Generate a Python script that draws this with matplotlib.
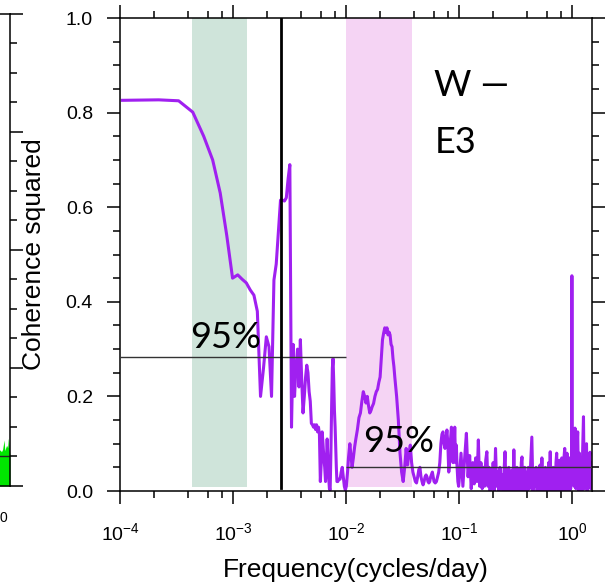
import matplotlib
matplotlib.use('Agg')
import matplotlib.pyplot as plt
import numpy as np
from matplotlib.ticker import LogLocator, MultipleLocator, NullFormatter

plt.rcParams['font.family'] = ['Liberation Sans', 'DejaVu Sans']
plt.rcParams['mathtext.fontset'] = 'custom'
plt.rcParams['mathtext.rm'] = 'Liberation Sans'
plt.rcParams['mathtext.it'] = 'Liberation Sans:italic'
plt.rcParams['mathtext.bf'] = 'Liberation Sans:bold'

# coherence, low frequencies (smooth part)
freq_low = [1.05e-4, 2.2e-4, 3.3e-4, 4.4e-4, 5.5e-4, 6.6e-4, 7.7e-4, 8.8e-4, 9.9e-4,
            1.1e-3, 1.2e-3, 1.31e-3, 1.42e-3, 1.53e-3, 1.64e-3, 1.75e-3, 1.86e-3,
            1.97e-3, 2.08e-3, 2.19e-3, 2.3e-3, 2.41e-3, 2.52e-3, 2.63e-3, 2.74e-3,
            2.85e-3, 2.96e-3, 3.07e-3, 3.18e-3]
coh_low = [0.826, 0.827, 0.825, 0.801, 0.75, 0.70, 0.63, 0.54, 0.45,
           0.457, 0.448, 0.44, 0.425, 0.414, 0.38, 0.20, 0.26,
           0.326, 0.305, 0.20, 0.446, 0.48, 0.55, 0.615, 0.615,
           0.613, 0.62, 0.66, 0.69]

# coherence, middle frequencies
freq_mid = [3.29e-3, 3.4e-3, 3.5e-3, 3.6e-3, 3.72e-3, 3.83e-3, 3.94e-3, 4.05e-3, 4.16e-3,
            4.27e-3, 4.38e-3, 4.49e-3, 4.6e-3, 4.71e-3, 4.82e-3, 4.93e-3, 5.04e-3, 5.15e-3,
            5.26e-3, 5.37e-3, 5.48e-3, 5.59e-3, 5.7e-3, 5.81e-3, 5.92e-3, 6.03e-3, 6.14e-3,
            6.25e-3, 6.36e-3, 6.47e-3, 6.58e-3, 6.69e-3, 6.8e-3, 6.9e-3, 7.01e-3, 7.12e-3,
            7.23e-3, 7.34e-3, 7.45e-3, 7.56e-3, 7.67e-3, 7.78e-3, 7.89e-3, 8.0e-3, 8.1e-3,
            8.2e-3, 8.3e-3, 8.45e-3, 8.65e-3, 8.85e-3, 9.05e-3, 9.25e-3, 9.45e-3, 9.65e-3,
            9.85e-3, 1.005e-2, 1.03e-2, 1.05e-2, 1.08e-2, 1.1e-2, 1.13e-2, 1.16e-2, 1.19e-2,
            1.22e-2, 1.26e-2, 1.3e-2, 1.34e-2, 1.38e-2, 1.42e-2, 1.46e-2, 1.5e-2, 1.54e-2,
            1.58e-2, 1.62e-2, 1.66e-2, 1.7e-2, 1.75e-2, 1.8e-2, 1.85e-2, 1.9e-2, 1.95e-2,
            2.0e-2, 2.05e-2, 2.1e-2, 2.15e-2, 2.2e-2, 2.25e-2, 2.3e-2, 2.35e-2, 2.4e-2,
            2.45e-2, 2.5e-2, 2.55e-2, 2.6e-2, 2.65e-2, 2.7e-2, 2.8e-2, 2.9e-2, 3.0e-2,
            3.1e-2, 3.2e-2, 3.3e-2, 3.4e-2, 3.5e-2, 3.6e-2, 3.7e-2, 3.8e-2, 3.9e-2, 4.0e-2,
            4.1e-2, 4.2e-2, 4.3e-2, 4.4e-2, 4.5e-2, 4.6e-2, 4.7e-2, 4.8e-2, 4.9e-2, 5.0e-2,
            5.1e-2, 5.2e-2, 5.3e-2, 5.4e-2, 5.5e-2, 5.6e-2, 5.7e-2, 5.8e-2, 5.9e-2, 6.0e-2,
            6.15e-2, 6.3e-2, 6.45e-2, 6.6e-2, 6.75e-2, 6.9e-2, 7.05e-2, 7.2e-2, 7.35e-2,
            7.5e-2, 7.65e-2, 7.8e-2, 7.95e-2, 8.1e-2, 8.25e-2, 8.4e-2, 8.55e-2, 8.7e-2,
            8.85e-2, 9.0e-2, 9.15e-2, 9.3e-2, 9.45e-2, 9.6e-2, 9.75e-2, 9.9e-2]
coh_mid = [0.135, 0.31, 0.20, 0.26, 0.30, 0.22, 0.32, 0.235, 0.165,
           0.20, 0.24, 0.266, 0.25, 0.21, 0.19, 0.143, 0.14, 0.135,
           0.14, 0.13, 0.14, 0.125, 0.135, 0.12, 0.02, 0.06, 0.125,
           0.10, 0.07, 0.05, 0.02, 0.06, 0.11, 0.07, 0.03, 0.005,
           0.002, 0.08, 0.18, 0.26, 0.28, 0.23, 0.17, 0.135, 0.09,
           0.05, 0.02, 0.02, 0.025, 0.025, 0.04, 0.05, 0.03, 0.01,
           0.002, 0.01, 0.04, 0.07, 0.10, 0.08, 0.05, 0.07, 0.093,
           0.11, 0.13, 0.155, 0.165, 0.19, 0.21, 0.20, 0.186, 0.20,
           0.18, 0.165, 0.17, 0.178, 0.185, 0.20, 0.21, 0.215, 0.23,
           0.241, 0.28, 0.32, 0.334, 0.345, 0.335, 0.345, 0.33, 0.336,
           0.33, 0.31, 0.305, 0.28, 0.263, 0.24, 0.20, 0.15, 0.08,
           0.04, 0.02, 0.05, 0.09, 0.055, 0.08, 0.097, 0.06, 0.04, 0.03,
           0.02, 0.017, 0.03, 0.045, 0.05, 0.03, 0.02, 0.013, 0.02, 0.03,
           0.034, 0.03, 0.02, 0.017, 0.02, 0.03, 0.035, 0.04, 0.03, 0.02,
           0.017, 0.02, 0.03, 0.04, 0.06, 0.10, 0.12, 0.125, 0.10,
           0.09, 0.11, 0.129, 0.10, 0.04, 0.06, 0.11, 0.135, 0.10,
           0.06, 0.08, 0.135, 0.06, 0.097, 0.05, 0.02, 0.01]

# coherence, high frequencies (dense, noisy part)
freq_high = [0.100, 0.104, 0.108, 0.112, 0.116, 0.120, 0.124, 0.128, 0.132, 0.136,
             0.140, 0.144, 0.148, 0.152, 0.156, 0.160, 0.164, 0.168, 0.172, 0.176,
             0.180, 0.184, 0.188, 0.192, 0.196,
             0.200, 0.205, 0.210, 0.215, 0.220, 0.225, 0.230, 0.235, 0.240, 0.245,
             0.250, 0.255, 0.260, 0.265, 0.270, 0.275, 0.280, 0.285, 0.290, 0.295,
             0.300, 0.305, 0.310, 0.315, 0.320, 0.325, 0.330, 0.335, 0.340, 0.345,
             0.350, 0.355, 0.360, 0.365, 0.370, 0.375, 0.380, 0.385, 0.390, 0.395,
             0.40, 0.41, 0.42, 0.43, 0.44, 0.45, 0.46, 0.47, 0.48, 0.49,
             0.50, 0.51, 0.52, 0.53, 0.54, 0.55, 0.56, 0.57, 0.58, 0.59,
             0.60, 0.61, 0.62, 0.63, 0.64, 0.65, 0.66, 0.67, 0.68, 0.69,
             0.70, 0.71, 0.72, 0.73, 0.74, 0.75, 0.76, 0.77, 0.78, 0.79,
             0.80, 0.81, 0.82, 0.83, 0.84, 0.85, 0.86, 0.87, 0.88, 0.89,
             0.90, 0.91, 0.92, 0.93, 0.94, 0.95, 0.96, 0.97, 0.98, 0.99,
             0.995,
             1.00, 1.02, 1.04, 1.06, 1.08, 1.10, 1.12, 1.14, 1.16, 1.18,
             1.20, 1.22, 1.24, 1.26, 1.28, 1.30, 1.32, 1.34, 1.36, 1.38,
             1.40, 1.42, 1.44, 1.46, 1.48, 1.50]
coh_high = [0.02, 0.08, 0.01, 0.07, 0.122, 0.03, 0.075, 0.005, 0.06, 0.015,
            0.07, 0.02, 0.108, 0.01, 0.06, 0.005, 0.05, 0.01, 0.065, 0.083,
            0.01, 0.05, 0.0, 0.045, 0.005,
            0.06, 0.0, 0.09, 0.01, 0.04, 0.0, 0.05, 0.005, 0.035, 0.0,
            0.045, 0.083, 0.0, 0.04, 0.005, 0.05, 0.0, 0.035, 0.01, 0.045,
            0.0, 0.087, 0.005, 0.04, 0.0, 0.05, 0.01, 0.04, 0.0, 0.045,
            0.005, 0.06, 0.072, 0.0, 0.04, 0.005, 0.05, 0.0, 0.04, 0.01,
            0.0, 0.05, 0.005, 0.06, 0.114, 0.0, 0.045, 0.01, 0.05, 0.0,
            0.04, 0.005, 0.055, 0.0, 0.07, 0.01, 0.045, 0.0, 0.05, 0.005,
            0.04, 0.0, 0.06, 0.01, 0.083, 0.0, 0.045, 0.005, 0.05, 0.0,
            0.04, 0.01, 0.06, 0.08, 0.0, 0.05, 0.005, 0.065, 0.0, 0.05,
            0.01, 0.07, 0.0, 0.05, 0.005, 0.075, 0.09, 0.0, 0.06, 0.005,
            0.08, 0.0, 0.05, 0.01, 0.07, 0.0, 0.06, 0.005, 0.07, 0.02,
            0.455,
            0.03, 0.09, 0.01, 0.133, 0.005, 0.08, 0.125, 0.0, 0.08, 0.01,
            0.07, 0.0, 0.09, 0.157, 0.005, 0.07, 0.01, 0.10, 0.0, 0.06,
            0.01, 0.07, 0.082, 0.005, 0.06, 0.03]

# neighbouring panel (only its right edge shows)
freq_green = [1.20, 1.23, 1.26, 1.29, 1.31, 1.33, 1.35, 1.37, 1.40, 1.43, 1.45, 1.47, 1.49, 1.5]
coh_green = [0.06, 0.061, 0.058, 0.062, 0.07, 0.078, 0.06, 0.064, 0.069, 0.065, 0.081, 0.07, 0.056, 0.05]

sig_low = 0.283      # 95% level, f < 0.01
sig_high = 0.051     # 95% level, f > 0.01
f_split = 1e-2
f_annual = 2.65e-3
band_green = (4.35e-4, 1.33e-3)
band_pink = (1.0e-2, 0.0385)

xtick_vals = [1e-4, 1e-3, 1e-2, 1e-1, 1e0]
xtick_labels = [r'$\mathregular{10^{-4}}$', r'$\mathregular{10^{-3}}$', r'$\mathregular{10^{-2}}$',
                r'$\mathregular{10^{-1}}$', r'$\mathregular{10^{0}}$']
ytick_vals = [0.0, 0.2, 0.4, 0.6, 0.8, 1.0]
ytick_labels = ['0.0', '0.2', '0.4', '0.6', '0.8', '1.0']

purple = '#A020F0'
xmin, xmax = 1e-4, 1.5


def style(ax):
    ax.set_xscale('log')
    ax.set_xlim(xmin, xmax)
    ax.set_xticks(xtick_vals, xtick_labels)
    ax.xaxis.set_minor_locator(LogLocator(base=10, subs=[2, 4, 6, 8], numticks=20))
    ax.xaxis.set_minor_formatter(NullFormatter())
    ax.yaxis.set_minor_locator(MultipleLocator(0.05))
    ax.tick_params(which='both', direction='out', top=True, right=True, width=1.1,
                   labelsize=14)
    ax.tick_params(which='major', length=9.5)
    ax.tick_params(which='minor', length=5)
    ax.tick_params(axis='y', pad=10)
    ax.tick_params(axis='x', pad=13)
    for s in ax.spines.values():
        s.set_linewidth(1.1)


fig = plt.figure(figsize=(6.13, 5.83), dpi=100)

# cut-off panel on the left
ax0 = fig.add_axes([0.0163 - 0.77, 0.1664, 0.77, 0.8096])
style(ax0)
ax0.set_ylim(0, 0.8)
ax0.yaxis.set_major_locator(MultipleLocator(0.2))
ax0.tick_params(labelleft=False, labelbottom=False)
ax0.fill_between(freq_green, 0, coh_green, color='#00E600', lw=0)
ax0.hlines(sig_high, f_split, xmax, color='#222222', lw=1.0)
# visible tail of that panel's 10^0 label
fig.text(0.0, 1 - 518 / 583, '0', fontsize=10, ha='left', va='center')

ax = fig.add_axes([0.1958, 0.1578, 0.7700, 0.8113])
style(ax)
ax.set_ylim(0, 1.0)
ax.set_yticks(ytick_vals, ytick_labels)

ax.axvspan(*band_green, ymin=0.008, ymax=1, color='#CFE4DA', lw=0, zorder=0)
ax.axvspan(*band_pink, ymin=0.008, ymax=1, color='#F5D4F4', lw=0, zorder=0)

freq = np.concatenate([freq_low, freq_mid, freq_high])
coh = np.concatenate([coh_low, coh_mid, coh_high])
ax.plot(freq, coh, color=purple, lw=2.2, zorder=2)

ax.hlines(sig_low, xmin, f_split, color='#333333', lw=1.0, zorder=3)
ax.hlines(sig_high, f_split, xmax, color='#333333', lw=1.0, zorder=3)
ax.axvline(f_annual, ymin=0.006, ymax=1, color='black', lw=2.0, zorder=3)

ax.set_ylabel('Coherence squared', fontsize=19)
ax.yaxis.set_label_coords(-0.157, 0.5)
ax.set_xlabel('Frequency(cycles/day)', fontsize=19)
ax.xaxis.set_label_coords(0.5, -0.141)

txt = dict(family=['Lato', 'DejaVu Sans'], fontsize=26, color='black', zorder=5,
           transform=ax.transAxes, va='baseline', ha='left')
ax.text(0.148, 0.302, '95%', **txt)
ax.text(0.515, 0.0825, '95%', **txt)
ax.text(0.666, 0.835, 'W \u2014', **txt)
ax.text(0.666, 0.7146, 'E3', **txt)

fig.savefig('out.png', dpi=100)
